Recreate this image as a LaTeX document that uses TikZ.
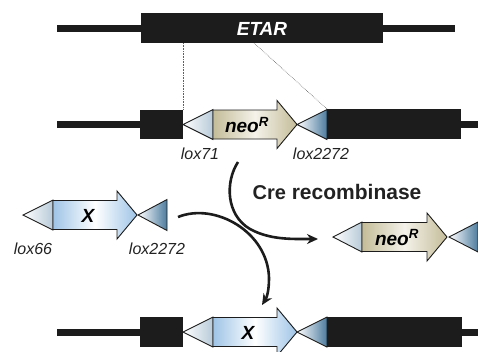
\documentclass[tikz,border=0pt]{standalone}
\usepackage{fontspec}
\setmainfont{Liberation Sans}
\usetikzlibrary{arrows.meta}
\definecolor{dna}{HTML}{1C1C1C}
\definecolor{tan}{HTML}{C4BC98}
\definecolor{cream}{HTML}{F4F2EA}
\definecolor{lblue}{HTML}{9EC4E6}
\definecolor{steel}{HTML}{4C7C9E}
\definecolor{txt}{HTML}{222222}
\tikzset{
  x=1pt, y=-1pt,
  dnafill/.style={fill=dna},
  outl/.style={draw=dna, line width=0.9pt, line join=miter},
  loxwhite/.style={outl, left color=white, middle color=white, right color=steel!40},
  loxblue/.style={outl, left color=white, right color=steel},
  neofill/.style={outl, left color=tan, right color=tan, middle color=cream},
  xfill/.style={outl, left color=lblue, right color=lblue, middle color=white},
  lbl/.style={font=\fontsize{16}{18}\selectfont\itshape, text=txt, inner sep=0pt},
  gene/.style={font=\fontsize{19}{21}\selectfont\bfseries\itshape, inner sep=0pt},
  flow/.style={line width=2.6pt, draw=dna, -{Stealth[length=11pt,width=10pt]}},
  guide/.style={draw=dna!70, line width=0.6pt, densely dotted}
}
% a coding arrow starting at the left middle point, body length #3
\newcommand{\codarrow}[3]{\path[#1] (#2) ++(0,-14.5) -- ++(#3,0) -- ++(0,-9.5)
  -- ++(20,24) -- ++(-20,24) -- ++(0,-9.5) -- ++(-#3,0) -- cycle;}
\begin{document}
\begin{tikzpicture}
\useasboundingbox (0,0) rectangle (478,351);
\begin{scope}
\clip (0,0) rectangle (478,351);

% ---- wild-type locus
\fill[dnafill] (57,24.5) rectangle (455,31.5);
\fill[dnafill] (141,13) rectangle (383,43);
\node[gene, text=white] (etar) at (262,28.5) {ETAR};
\coordinate (e1) at (183,43);
\coordinate (e2) at (254,43);

% ---- targeted locus
\fill[dnafill] (57,121) rectangle (140,128);
\fill[dnafill] (140,110) rectangle (183,139);
\path[loxwhite] (183,124.5) -- (213,109.5) -- (213,139.5) -- cycle;
\codarrow{neofill}{213,124.5}{64}
\path[loxblue] (297,124.5) -- (327,109.5) -- (327,139.5) -- cycle;
\fill[dnafill] (327,109) rectangle (461,139);
\fill[dnafill] (461,121) rectangle (478,128);
\node[gene] (neoA) at (247,125) {neo\textsuperscript{R}};
\coordinate (t1) at (183,110);
\coordinate (t2) at (327,109);
\draw[guide] (e1) -- (t1);
\draw[guide] (e2) -- (t2);
\node[lbl] (l71a) at (200,154) {lox71};
\node[lbl] (l22a) at (321,154) {lox2272};

% ---- incoming cassette
\path[loxwhite] (23,215) -- (53,200) -- (53,230) -- cycle;
\codarrow{xfill}{53,215}{64}
\path[loxblue] (138,215) -- (167,199.5) -- (167,230.5) -- cycle;
\node[gene] (xa) at (88,215.5) {X};
\node[lbl] (l66) at (33,249) {lox66};
\node[lbl] (l22b) at (157,249) {lox2272};

% ---- excised cassette
\path[loxwhite] (333,237) -- (362,222) -- (362,252) -- cycle;
\codarrow{neofill}{362,237}{65}
\path[loxblue] (449,237) -- (478,222) -- (478,252) -- cycle;
\node[gene] (neoB) at (397,237.5) {neo\textsuperscript{R}};

% ---- recombined locus
\fill[dnafill] (57,328.5) rectangle (140,335.5);
\fill[dnafill] (140,317) rectangle (183,347);
\path[loxwhite] (183,332) -- (213,317) -- (213,347) -- cycle;
\codarrow{xfill}{213,332}{64}
\path[loxblue] (297,332) -- (327,317) -- (327,347) -- cycle;
\fill[dnafill] (327,317) rectangle (462,347);
\fill[dnafill] (462,328.5) rectangle (478,335.5);
\node[gene] (xb) at (248,332.5) {X};

% ---- recombination arrows
\node[font=\fontsize{21}{24}\selectfont\bfseries, text=txt, inner sep=0pt]
  (cre) at (337,192) {{\fontsize{20}{22}\selectfont Cre} recombinase};
\coordinate (a0) at (238,162);
\coordinate (a1) at (250,229);
\coordinate (a2) at (318,239);
\draw[flow] (a0) .. controls (225,182) and (226,215) .. (a1)
  .. controls (270,240) and (292,239) .. (a2);
\coordinate (b0) at (178,217);
\coordinate (b1) at (269,278);
\coordinate (b2) at (262,305);
\draw[flow] (b0) .. controls (215,202) and (268,232) .. (b1)
  .. controls (269,290) and (267,297) .. (b2);
\end{scope}
\end{tikzpicture}
\end{document}
